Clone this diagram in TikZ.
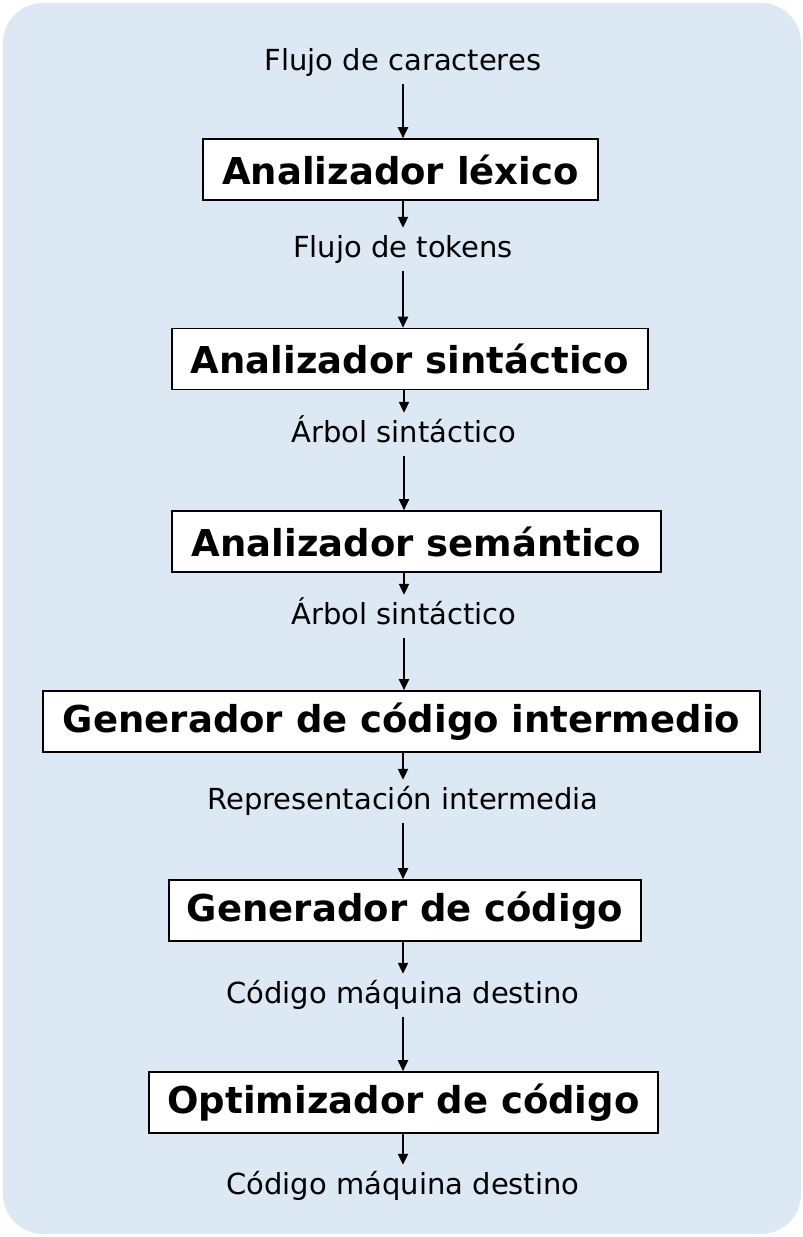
\documentclass[tikz,border=0pt]{standalone}
\usepackage{fontspec}
\setmainfont{DejaVu Sans}
\usetikzlibrary{arrows.meta}
\definecolor{bg}{HTML}{DDE8F5}
\begin{document}
\begin{tikzpicture}[x=1pt,y=-1pt,
 stage/.style={draw=black,line width=1.6pt,fill=white,font=\fontsize{37}{40}\selectfont\bfseries,inner sep=0pt,minimum height=61pt},
 flow/.style={font=\fontsize{29}{32}\selectfont,inner xsep=0pt,inner ysep=8pt,text height=21pt,text depth=6pt,anchor=base},
 arr/.style={line width=2.1pt,-{Triangle[length=11pt,width=10pt]}}]
\useasboundingbox (0,0) rectangle (803,1237);
\fill[bg,rounded corners=40pt] (3,3) rectangle (801,1234);
\node[flow] (l0) at (403,70) {Flujo de caracteres};
\node[stage,minimum width=395pt] (b1) at (400.5,169.5) {Analizador léxico};
\node[flow] (l1) at (403,257) {Flujo de tokens};
\node[stage,minimum width=476pt] (b2) at (410,359) {Analizador sintáctico};
\node[flow] (l2) at (404,442) {Árbol sintáctico};
\node[stage,minimum width=489pt] (b3) at (416.5,541.5) {Analizador semántico};
\node[flow] (l3) at (404,624) {Árbol sintáctico};
\node[stage,minimum width=717pt] (b4) at (401.5,721.5) {Generador de código intermedio};
\node[flow] (l4) at (403,809) {Representación intermedia};
\node[stage,minimum width=472pt] (b5) at (405,910.5) {Generador de código};
\node[flow] (l5) at (403,1003) {Código máquina destino};
\node[stage,minimum width=509pt] (b6) at (403.5,1102.5) {Optimizador de código};
\node[flow] (l6) at (403,1194) {Código máquina destino};
\draw[arr] (l0.south) -- (l0.south |- b1.north);
\draw[arr] (b1.south -| l1.north) -- (l1.north);
\draw[arr] (l1.south) -- (l1.south |- b2.north);
\draw[arr] (b2.south -| l2.north) -- (l2.north);
\draw[arr] (l2.south) -- (l2.south |- b3.north);
\draw[arr] (b3.south -| l3.north) -- (l3.north);
\draw[arr] (l3.south) -- (l3.south |- b4.north);
\draw[arr] (b4.south -| l4.north) -- (l4.north);
\draw[arr] (l4.south) -- (l4.south |- b5.north);
\draw[arr] (b5.south -| l5.north) -- (l5.north);
\draw[arr] (l5.south) -- (l5.south |- b6.north);
\draw[arr] (b6.south -| l6.north) -- (l6.north);
\end{tikzpicture}
\end{document}
